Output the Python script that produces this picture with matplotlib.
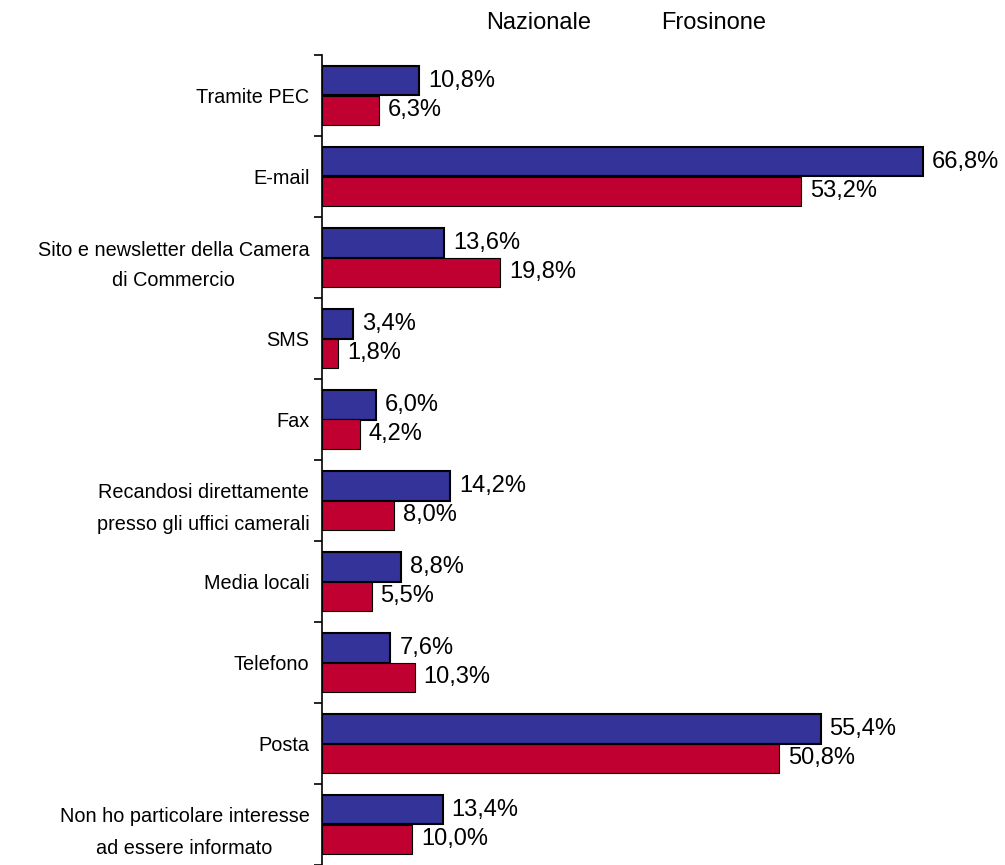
import numpy as np
import matplotlib.pyplot as plt

plt.rcParams['font.family'] = ['Liberation Sans', 'DejaVu Sans']

# channels used to receive information from the Chamber of Commerce
categories = ["Tramite PEC", "E-mail", "Sito e newsletter della Camera\ndi Commercio", "SMS", "Fax",
              "Recandosi direttamente\npresso gli uffici camerali", "Media locali", "Telefono", "Posta",
              "Non ho particolare interesse\nad essere informato"]
nazionale = [10.8, 66.8, 13.6, 3.4, 6.0, 14.2, 8.8, 7.6, 55.4, 13.4]
frosinone = [6.3, 53.2, 19.8, 1.8, 4.2, 8.0, 5.5, 10.3, 50.8, 10.0]
series_names = ["Nazionale", "Frosinone"]

fig = plt.figure(figsize=(10.05, 8.65), dpi=100)
ax = fig.add_axes([322/1005, 0, 683/1005, 810/865])

y = np.arange(len(categories))
h = 0.37
ax.barh(y - h/2, nazionale, height=h, color='#333399', edgecolor='black', linewidth=1.5)
ax.barh(y + h/2, frosinone, height=h, color='#C00030', edgecolor='black', linewidth=0.8)

def fmt(v):
    return f"{v:.1f}%".replace('.', ',')

for i in range(len(categories)):
    ax.text(nazionale[i] + 1.0, y[i] - h/2, fmt(nazionale[i]), va='center', ha='left', fontsize=17)
    ax.text(frosinone[i] + 1.0, y[i] + h/2, fmt(frosinone[i]), va='center', ha='left', fontsize=17)

ax.set_xlim(0, 683/9)
ax.set_ylim(len(categories) - 0.5, -0.5)

ax.set_yticks(y)
ax.set_yticklabels(categories, fontsize=14.3, multialignment='center', linespacing=1.8)
ax.tick_params(axis='y', which='major', length=0, pad=9)
ax.set_yticks(np.arange(len(categories) + 1) - 0.5, minor=True)
ax.tick_params(axis='y', which='minor', length=6, width=1.2, direction='out')
ax.set_xticks([])

for s in ['top', 'right', 'bottom']:
    ax.spines[s].set_visible(False)
ax.spines['left'].set_linewidth(1.2)

fig.text(539/1005, 1 - 23/865, series_names[0], ha='center', va='center', fontsize=17)
fig.text(714/1005, 1 - 23/865, series_names[1], ha='center', va='center', fontsize=17)

fig.savefig('out.png', dpi=100)
